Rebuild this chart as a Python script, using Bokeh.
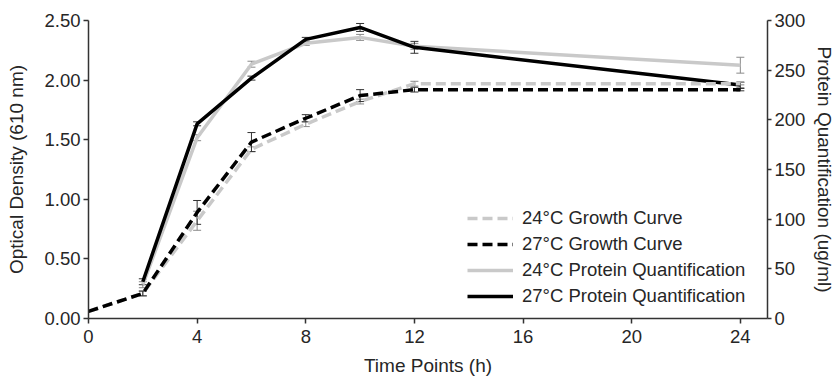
from bokeh.plotting import figure
from bokeh.models import (Range1d, LinearAxis, FixedTicker, NumeralTickFormatter,
                          Legend, LegendItem, ColumnDataSource, Whisker, TeeHead)
from bokeh.embed import file_html
from bokeh.resources import INLINE

# ---- data ----
time_h = [0, 2, 4, 6, 8, 10, 12, 24]
growth_24 = [0.06, 0.21, 0.82, 1.42, 1.63, 1.82, 1.97, 1.97]
growth_24_err = [0.0, 0.02, 0.08, 0.02, 0.02, 0.02, 0.02, 0.01]
growth_27 = [0.06, 0.21, 0.89, 1.48, 1.68, 1.87, 1.92, 1.92]
growth_27_err = [0.0, 0.02, 0.10, 0.08, 0.03, 0.05, 0.02, 0.01]

protein_time = [2, 4, 6, 8, 10, 12, 24]
protein_24 = [34, 182, 256, 277, 283, 274, 255]
protein_24_err = [3, 3, 3, 2, 3, 3, 8]
protein_27 = [37, 196, 242, 281, 293, 273, 235]
protein_27_err = [3, 2, 2, 2, 4, 6, 3]

x_ticks = [0, 4, 8, 12, 16, 20, 24]
od_ticks = [0, 0.5, 1.0, 1.5, 2.0, 2.5]
prot_ticks = [0, 50, 100, 150, 200, 250, 300]

FONT = "Liberation Sans"
GRAY = "#c9c9c9"
TXT = "#262626"

p = figure(width=839, height=378, output_backend="svg", toolbar_location=None,
           x_range=Range1d(0, 25), y_range=Range1d(0, 2.5),
           min_border_left=88, min_border_right=72, min_border_top=20, min_border_bottom=59)
p.outline_line_color = None
p.xgrid.visible = False
p.ygrid.visible = False
p.extra_y_ranges = {"prot": Range1d(0, 300)}

def style_axis(ax, tick_out=5):
    ax.axis_line_color = "#333333"
    ax.axis_line_width = 1.5
    ax.major_tick_line_color = "#333333"
    ax.major_tick_line_width = 1.5
    ax.major_tick_out = tick_out
    ax.major_tick_in = 0
    ax.minor_tick_line_color = None
    ax.major_label_text_font = FONT
    ax.major_label_text_font_size = "18.5px"
    ax.major_label_text_color = TXT
    ax.axis_label_text_font = FONT
    ax.axis_label_text_font_size = "19px"
    ax.axis_label_text_font_style = "normal"
    ax.axis_label_text_color = TXT

xa = p.xaxis[0]
style_axis(xa)
xa.ticker = FixedTicker(ticks=x_ticks)
xa.axis_label = "Time Points (h)"
xa.major_label_standoff = 6
xa.axis_label_standoff = 9

ya = p.yaxis[0]
style_axis(ya)
ya.ticker = FixedTicker(ticks=od_ticks)
ya.formatter = NumeralTickFormatter(format="0.00")
ya.axis_label = "Optical Density (610 nm)"
ya.major_label_standoff = 3
ya.axis_label_standoff = 14

ra = LinearAxis(y_range_name="prot")
style_axis(ra, tick_out=4)
ra.ticker = FixedTicker(ticks=prot_ticks)
ra.axis_label = "Protein Quantification (ug/ml)"
ra.major_label_standoff = 3
ra.axis_label_standoff = 6
p.add_layout(ra, "right")

# ---- sources ----
g24 = ColumnDataSource(dict(x=time_h, y=growth_24,
                            lo=[a - b for a, b in zip(growth_24, growth_24_err)],
                            hi=[a + b for a, b in zip(growth_24, growth_24_err)]))
g27 = ColumnDataSource(dict(x=time_h, y=growth_27,
                            lo=[a - b for a, b in zip(growth_27, growth_27_err)],
                            hi=[a + b for a, b in zip(growth_27, growth_27_err)]))
p24 = ColumnDataSource(dict(x=protein_time, y=protein_24,
                            lo=[a - b for a, b in zip(protein_24, protein_24_err)],
                            hi=[a + b for a, b in zip(protein_24, protein_24_err)]))
p27 = ColumnDataSource(dict(x=protein_time, y=protein_27,
                            lo=[a - b for a, b in zip(protein_27, protein_27_err)],
                            hi=[a + b for a, b in zip(protein_27, protein_27_err)]))

r_p24 = p.line("x", "y", source=p24, y_range_name="prot", line_color=GRAY, line_width=3.5)
r_p27 = p.line("x", "y", source=p27, y_range_name="prot", line_color="black", line_width=3.5)
r_g24 = p.line("x", "y", source=g24, line_color=GRAY, line_width=3.5, line_dash="10 5")
r_g27 = p.line("x", "y", source=g27, line_color="black", line_width=3.5, line_dash="10 5")

def add_err(src, color, yname=None):
    kw = {}
    if yname:
        kw["y_range_name"] = yname
    w = Whisker(source=src, base="x", upper="hi", lower="lo", line_color=color, line_width=1,
                upper_head=TeeHead(size=8, line_color=color, line_width=1),
                lower_head=TeeHead(size=8, line_color=color, line_width=1), **kw)
    p.add_layout(w)

add_err(p24, "#8a8a8a", "prot")
add_err(p27, "#333333", "prot")
add_err(g24, "#8a8a8a")
add_err(g27, "#333333")

legend = Legend(items=[
    LegendItem(label="24\u00b0C Growth Curve", renderers=[r_g24]),
    LegendItem(label="27\u00b0C Growth Curve", renderers=[r_g27]),
    LegendItem(label="24\u00b0C Protein Quantification", renderers=[r_p24]),
    LegendItem(label="27\u00b0C Protein Quantification", renderers=[r_p27]),
], location=(379, 10))
legend.border_line_alpha = 0
legend.background_fill_alpha = 0
legend.label_text_font = FONT
legend.label_text_font_size = "18.5px"
legend.label_text_color = TXT
legend.glyph_width = 46
legend.glyph_height = 24
legend.label_height = 24
legend.label_standoff = 9
legend.spacing = 2
legend.padding = 0
legend.margin = 0
p.add_layout(legend)

open("out.html", "w").write(file_html(p, INLINE))
